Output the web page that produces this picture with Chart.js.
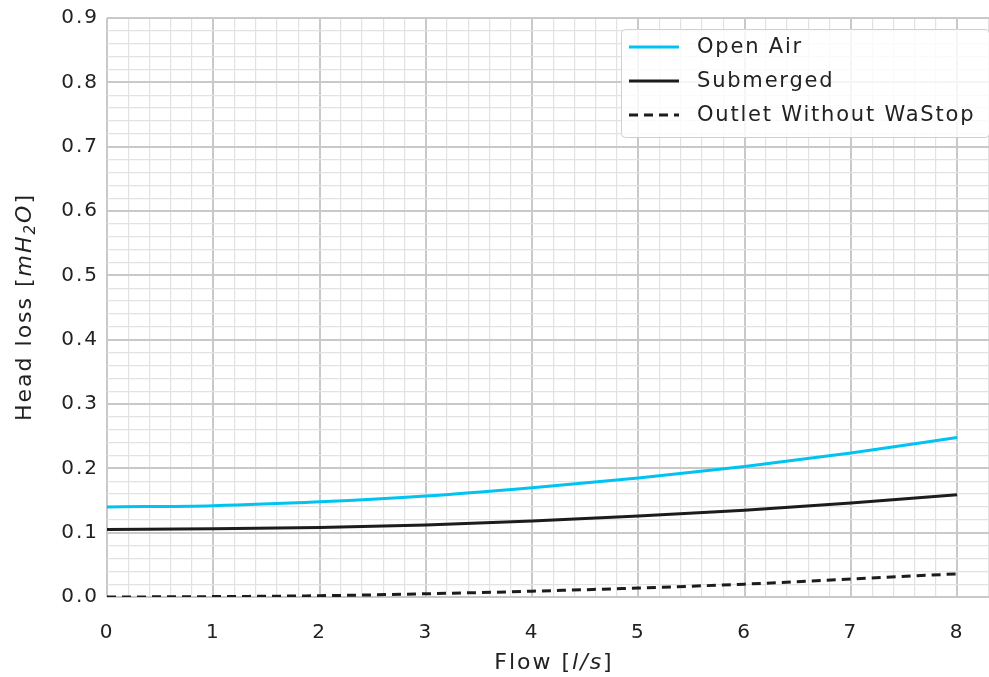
<!DOCTYPE html>
<html>
<head>
<meta charset="utf-8">
<script src="https://cdn.jsdelivr.net/npm/chart.js@4"></script>
<style>
  html, body { margin: 0; padding: 0; background: #fff; }
  #wrap { width: 989px; height: 677px; }
</style>
</head>
<body>
<div id="wrap"><canvas id="myChart"></canvas></div>
<script>
const FONT = "'DejaVu Sans', 'Noto Sans', sans-serif";

const flow = [0, 1, 2, 3, 4, 5, 6, 7, 8];
const openAir = [0.14, 0.142, 0.148, 0.157, 0.17, 0.185, 0.203, 0.224, 0.248];
const submerged = [0.105, 0.106, 0.108, 0.112, 0.118, 0.126, 0.135, 0.146, 0.159];
const noWaStop = [0.0, 0.0006, 0.002, 0.005, 0.009, 0.014, 0.02, 0.028, 0.036];

const seriesNames = ["Open Air", "Submerged", "Outlet Without WaStop"];
const seriesColors = ["#00c3f2", "#1c1c1c", "#1c1c1c"];

const pts = (ys) => flow.map((x, i) => ({ x: x, y: ys[i] }));

const isMajor = (v, step) => Math.abs(v / step - Math.round(v / step)) < 1e-6;

// wider letters, closer to the original geometric font
const spacing = {
  id: "spacing",
  beforeDraw(chart) { chart.ctx.letterSpacing = "2px"; },
  afterDraw(chart) { chart.ctx.letterSpacing = "0px"; },
};

// legend box inside the plot, top right
const boxLegend = {
  id: "boxLegend",
  afterDatasetsDraw(chart) {
    const ctx = chart.ctx;
    const x0 = 621, y0 = 29, w = 368, h = 108;
    ctx.save();
    ctx.fillStyle = "rgba(255,255,255,0.82)";
    ctx.strokeStyle = "#d0d0d0";
    ctx.lineWidth = 1;
    ctx.beginPath();
    ctx.roundRect(x0 + 0.5, y0 + 0.5, w, h, 4);
    ctx.fill();
    ctx.stroke();
    ctx.font = "21px " + FONT;
    ctx.textBaseline = "middle";
    ctx.letterSpacing = "1.8px";
    chart.data.datasets.forEach((ds, i) => {
      const y = 47 + i * 34;
      ctx.strokeStyle = ds.borderColor;
      ctx.lineWidth = 3;
      ctx.setLineDash(ds.borderDash || []);
      ctx.beginPath();
      ctx.moveTo(629, y);
      ctx.lineTo(679, y);
      ctx.stroke();
      ctx.setLineDash([]);
      ctx.fillStyle = "#222";
      ctx.fillText(ds.label, 697, y + 1);
    });
    ctx.restore();
  },
};

// axis titles with italic units
function drawParts(ctx, parts, x, y) {
  let total = 0;
  parts.forEach((p) => {
    ctx.font = p.f;
    p.w = ctx.measureText(p.t).width;
    total += p.w;
  });
  let cx = x - total / 2;
  parts.forEach((p) => {
    ctx.font = p.f;
    ctx.fillText(p.t, cx, y + (p.dy || 0));
    cx += p.w;
  });
}

const axisTitles = {
  id: "axisTitles",
  afterDraw(chart) {
    const ctx = chart.ctx;
    ctx.save();
    ctx.fillStyle = "#222";
    ctx.textBaseline = "middle";
    ctx.letterSpacing = "2px";
    drawParts(ctx, [
      { t: "Flow [", f: "22px " + FONT },
      { t: "l/s", f: "italic 22px " + FONT },
      { t: "]", f: "22px " + FONT },
    ], 554, 663);
    ctx.translate(25, 307);
    ctx.rotate(-Math.PI / 2);
    drawParts(ctx, [
      { t: "Head loss [", f: "22px " + FONT },
      { t: "mH", f: "italic 22px " + FONT },
      { t: "2", f: "italic 15px " + FONT, dy: 6 },
      { t: "O", f: "italic 22px " + FONT },
      { t: "]", f: "22px " + FONT },
    ], 0, 0);
    ctx.restore();
  },
};

const data = {
  datasets: [
    {
      label: seriesNames[0],
      data: pts(openAir),
      borderColor: seriesColors[0],
      borderWidth: 3,
    },
    {
      label: seriesNames[1],
      data: pts(submerged),
      borderColor: seriesColors[1],
      borderWidth: 3,
    },
    {
      label: seriesNames[2],
      data: pts(noWaStop),
      borderColor: seriesColors[2],
      borderWidth: 3,
      borderDash: [9, 6],
    },
  ],
};

const config = {
  type: "line",
  data: data,
  options: {
    responsive: true,
    maintainAspectRatio: false,
    animation: false,
    layout: { padding: { top: 18, right: 0, left: 0, bottom: 0 } },
    elements: {
      point: { radius: 0 },
      line: { cubicInterpolationMode: "monotone", fill: false },
    },
    scales: {
      x: {
        type: "linear",
        min: 0,
        max: 8.3,
        afterFit: (s) => { s.height = 80; s.paddingLeft = 0; s.paddingRight = 0; },
        border: { display: false },
        grid: {
          drawTicks: false,
          color: (c) => (isMajor(c.tick.value, 1) ? "#c9c9c9" : "#e2e2e2"),
          lineWidth: (c) => (isMajor(c.tick.value, 1) ? 2 : 1.2),
        },
        ticks: {
          stepSize: 0.2,
          autoSkip: false,
          maxRotation: 0,
          padding: 24,
          color: "#222",
          font: { family: FONT, size: 20 },
          callback: (v) => (isMajor(v, 1) ? String(Math.round(v)) : ""),
        },
      },
      y: {
        min: 0,
        max: 0.9,
        afterFit: (s) => { s.width = 107; s.paddingTop = 0; s.paddingBottom = 0; },
        border: { display: false },
        grid: {
          drawTicks: false,
          color: (c) => (isMajor(c.tick.value, 0.1) ? "#c9c9c9" : "#e2e2e2"),
          lineWidth: (c) => (isMajor(c.tick.value, 0.1) ? 2 : 1.2),
        },
        ticks: {
          stepSize: 0.02,
          autoSkip: false,
          padding: 8,
          color: "#222",
          font: { family: FONT, size: 20 },
          callback: (v) => (isMajor(v, 0.1) ? v.toFixed(1) : ""),
        },
      },
    },
    plugins: {
      legend: { display: false },
      title: { display: false },
      tooltip: { enabled: false },
    },
  },
  plugins: [spacing, boxLegend, axisTitles],
};

const myChart = new Chart(document.getElementById("myChart"), config);
</script>
</body>
</html>
